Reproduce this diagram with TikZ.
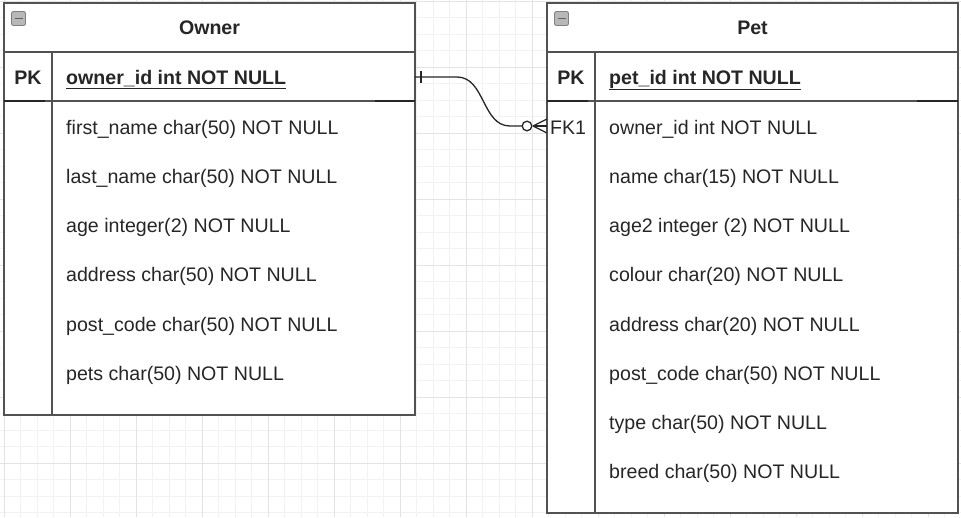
\documentclass[tikz,border=0pt]{standalone}
\usepackage{fontspec}
\setmainfont{Liberation Sans}
\begin{document}
\begin{tikzpicture}[x=1pt,y=-1pt,
  gridminor/.style={draw=black!5, line width=0.7pt},
  gridmajor/.style={draw=black!11, line width=0.9pt},
  border/.style={draw=black!68, line width=1.7pt},
  tablebox/.style={rectangle, border, fill=white, inner sep=0pt, outer sep=0pt, anchor=north west},
  pkseg/.style={draw=black!85, line width=2pt},
  txt/.style={anchor=base west, inner sep=0pt, text=black!85, font=\fontsize{19.6}{24}\selectfont},
  keytxt/.style={anchor=base, inner sep=0pt, text=black!85, font=\fontsize{19.6}{24}\selectfont},
  titletxt/.style={anchor=base, inner sep=0pt, text=black!85, font=\fontsize{19.6}{24}\selectfont\bfseries},
  icon/.style={rectangle, rounded corners=2pt, draw=black!50, fill=black!28, line width=0.9pt, minimum size=14pt, inner sep=0pt},
  conn/.style={draw=black!85, line width=1.3pt}
]
\useasboundingbox (0,0) rectangle (961,517);
\fill[white] (0,0) rectangle (961,517);
% grid
\foreach \k in {0,...,58} \draw[gridminor] ({4+16.5*\k},0) -- ({4+16.5*\k},517);
\foreach \k in {0,...,31} \draw[gridminor] (0,{1+16.5*\k}) -- (961,{1+16.5*\k});
\foreach \k in {0,...,14} \draw[gridmajor] ({4+66*\k},0) -- ({4+66*\k},517);
\foreach \k in {0,...,7} \draw[gridmajor] (0,{1+66*\k}) -- (961,{1+66*\k});

% ---------- Owner table ----------
\node[tablebox, minimum width=411pt, minimum height=412pt] (owner) at (4,3) {};
\draw[border] (4,52) -- (415,52);
\draw[border] (4,101) -- (415,101);
\draw[pkseg] (4,101) -- (45,101);
\draw[pkseg] (375,101) -- (415,101);
\draw[border] (52,52) -- (52,415);
\node[icon] (ownericon) at (18.5,18.5) {};
\draw[black!62, line width=1.3pt] (14.5,18.5) -- (22.5,18.5);
\node[titletxt] (ownertitle) at (209.5,34) {Owner};
\node[titletxt] (ownerpkl) at (28,84) {PK};
\node[txt, font=\fontsize{19.6}{24}\selectfont\bfseries] (ownerpk) at (66,84) {\underline{owner\_id int NOT NULL}};
\node[txt] (of1) at (66,134.5) {first\_name char(50) NOT NULL};
\node[txt] (of2) at (66,183.5) {last\_name char(50) NOT NULL};
\node[txt] (of3) at (66,232.5) {age integer(2) NOT NULL};
\node[txt] (of4) at (66,281.5) {address char(50) NOT NULL};
\node[txt] (of5) at (66,331) {post\_code char(50) NOT NULL};
\node[txt] (of6) at (66,380.5) {pets char(50) NOT NULL};

% ---------- Pet table ----------
\node[tablebox, minimum width=411pt, minimum height=510pt] (pet) at (547,3) {};
\draw[border] (547,52) -- (958,52);
\draw[border] (547,101) -- (958,101);
\draw[pkseg] (547,101) -- (588,101);
\draw[pkseg] (917,101) -- (958,101);
\draw[border] (595,52) -- (595,513);
\node[icon] (peticon) at (561.5,18.5) {};
\draw[black!62, line width=1.3pt] (557.5,18.5) -- (565.5,18.5);
\node[titletxt] (pettitle) at (752.5,34) {Pet};
\node[titletxt] (petpkl) at (571,84) {PK};
\node[txt, font=\fontsize{19.6}{24}\selectfont\bfseries] (petpk) at (609,84) {\underline{pet\_id int NOT NULL}};
\node[keytxt] (petfkl) at (568,134.5) {FK1};
\node[txt] (pf1) at (609,134.5) {owner\_id int NOT NULL};
\node[txt] (pf2) at (609,183.5) {name char(15) NOT NULL};
\node[txt] (pf3) at (609,232.5) {age2 integer (2) NOT NULL};
\node[txt] (pf4) at (609,281.5) {colour char(20) NOT NULL};
\node[txt] (pf5) at (609,331) {address char(20) NOT NULL};
\node[txt] (pf6) at (609,380.5) {post\_code char(50) NOT NULL};
\node[txt] (pf7) at (609,429.5) {type char(50) NOT NULL};
\node[txt] (pf8) at (609,478.5) {breed char(50) NOT NULL};

% ---------- relationship ----------
\coordinate (opk) at (owner.north east |- 0,77);
\coordinate (pfk) at (pet.north west |- 0,126);
\coordinate (bendA) at (457,77);
\coordinate (bendB) at (510,126);
\coordinate (circ) at (527,126);
\coordinate (foot) at (533,126);
\draw[conn] (opk) -- (bendA) .. controls (485,77) and (482,126) .. (bendB) -- (circ);
\draw[conn] (421,71) -- (421,83);
\draw[conn] (foot) -- (pfk);
\draw[conn] (foot) -- (pfk |- 0,119);
\draw[conn] (foot) -- (pfk |- 0,133);
\draw[conn, fill=white] (circ) circle (4.8pt);
\end{tikzpicture}
\end{document}
